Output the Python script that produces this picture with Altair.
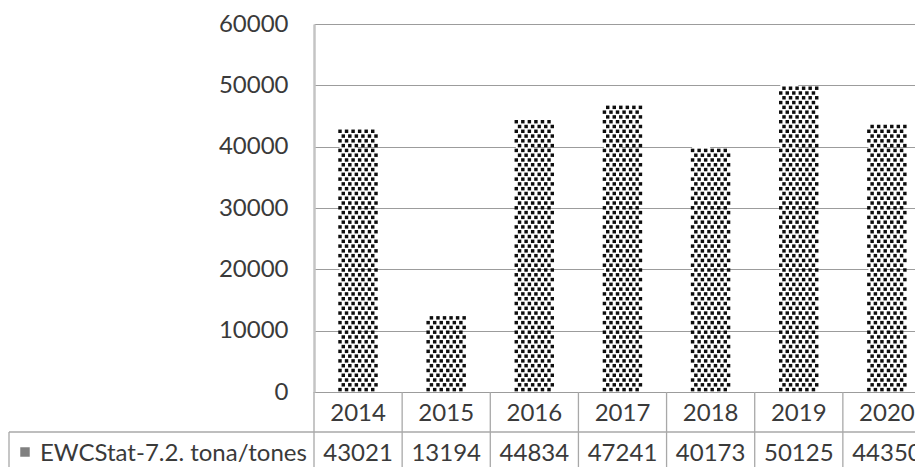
import altair as alt
import pandas as pd

years = ["2014", "2015", "2016", "2017", "2018", "2019", "2020"]
values = [43021, 13194, 44834, 47241, 40173, 50125, 44350]
series_name = "EWCStat-7.2. tona/tones"
y_ticks = [0, 10000, 20000, 30000, 40000, 50000, 60000]

df = pd.DataFrame({"year": years, "value": values})
one = pd.DataFrame({"series": [series_name]})

FONT = "Lato"
FS = 24
TXT = "#3a3a3a"
LINE = "#a8a8a8"
W, H = 601, 368
FULL_W = 617
ROW_STEP = 780

xscale = alt.Scale(range=[0, FULL_W], paddingInner=0, paddingOuter=0)
x_center = alt.X("year:N", sort=years, scale=xscale, axis=None)
x_edge = alt.X("year:N", sort=years, scale=xscale, axis=None, bandPosition=0)

yaxis = alt.Axis(
    values=y_ticks, title=None, ticks=False, labelPadding=26,
    grid=True, gridColor="#9c9c9c", gridWidth=1.2,
    domainColor="#c4c4c4", domainWidth=2.5,
    labelFont=FONT, labelFontSize=FS, labelColor=TXT, format="d",
)

bars = alt.Chart(df).mark_bar(width=alt.RelativeBandSize(0.42), color="white").encode(
    x=x_center,
    y=alt.Y("value:Q", scale=alt.Scale(domain=[0, 60000]), axis=yaxis),
)

dots = (
    alt.Chart(df)
    .transform_calculate(r=f"sequence(0, floor(datum.value / {ROW_STEP}))")
    .transform_flatten(["r"])
    .transform_calculate(
        yv=f"(datum.r + 0.5) * {ROW_STEP}",
        c="sequence(datum.r % 2, 12, 2)",
    )
    .transform_flatten(["c"])
    .mark_square(size=12, color="black", opacity=0.95)
    .encode(
        x=x_center,
        xOffset=alt.XOffset("c:O", scale=alt.Scale(domain=list(range(12)), range=[26, 62], paddingInner=0, paddingOuter=0)),
        y=alt.Y("yv:Q", axis=yaxis),
    )
)

year_text = alt.Chart(df).mark_text(font=FONT, fontSize=FS, color=TXT, baseline="middle").encode(
    x=x_center, y=alt.value(390), text="year:N"
)
value_text = alt.Chart(df).mark_text(font=FONT, fontSize=FS, color=TXT, baseline="middle").encode(
    x=x_center, y=alt.value(430), text=alt.Text("value:Q", format="d")
)
separators = alt.Chart(df).mark_rule(color=LINE, strokeWidth=1.3).encode(
    x=x_edge, y=alt.value(H), y2=alt.value(480)
)
row2_top = alt.Chart(one).mark_rule(color=LINE, strokeWidth=1.3).encode(
    x=alt.value(-305), x2=alt.value(FULL_W), y=alt.value(408)
)
left_border = alt.Chart(one).mark_rule(color=LINE, strokeWidth=1.3).encode(
    x=alt.value(-305), y=alt.value(408), y2=alt.value(480)
)
label = alt.Chart(one).mark_text(font=FONT, fontSize=FS, color=TXT, align="left", baseline="middle").encode(
    x=alt.value(-274), y=alt.value(430), text="series:N"
)
icon = alt.Chart(one).mark_square(size=90, color="#555555", opacity=0.75).encode(
    x=alt.value(-289), y=alt.value(428)
)

chart = (
    alt.layer(bars, dots, year_text, value_text, separators, row2_top, left_border, label, icon)
    .properties(
        width=W, height=H,
        autosize=alt.AutoSizeParams(type="none"),
        padding={"left": 306, "top": 16, "right": 0, "bottom": 75},
        background="white",
    )
    .configure_view(stroke=None)
)

chart.save("out.html", embed_options={"renderer": "svg", "actions": False})
